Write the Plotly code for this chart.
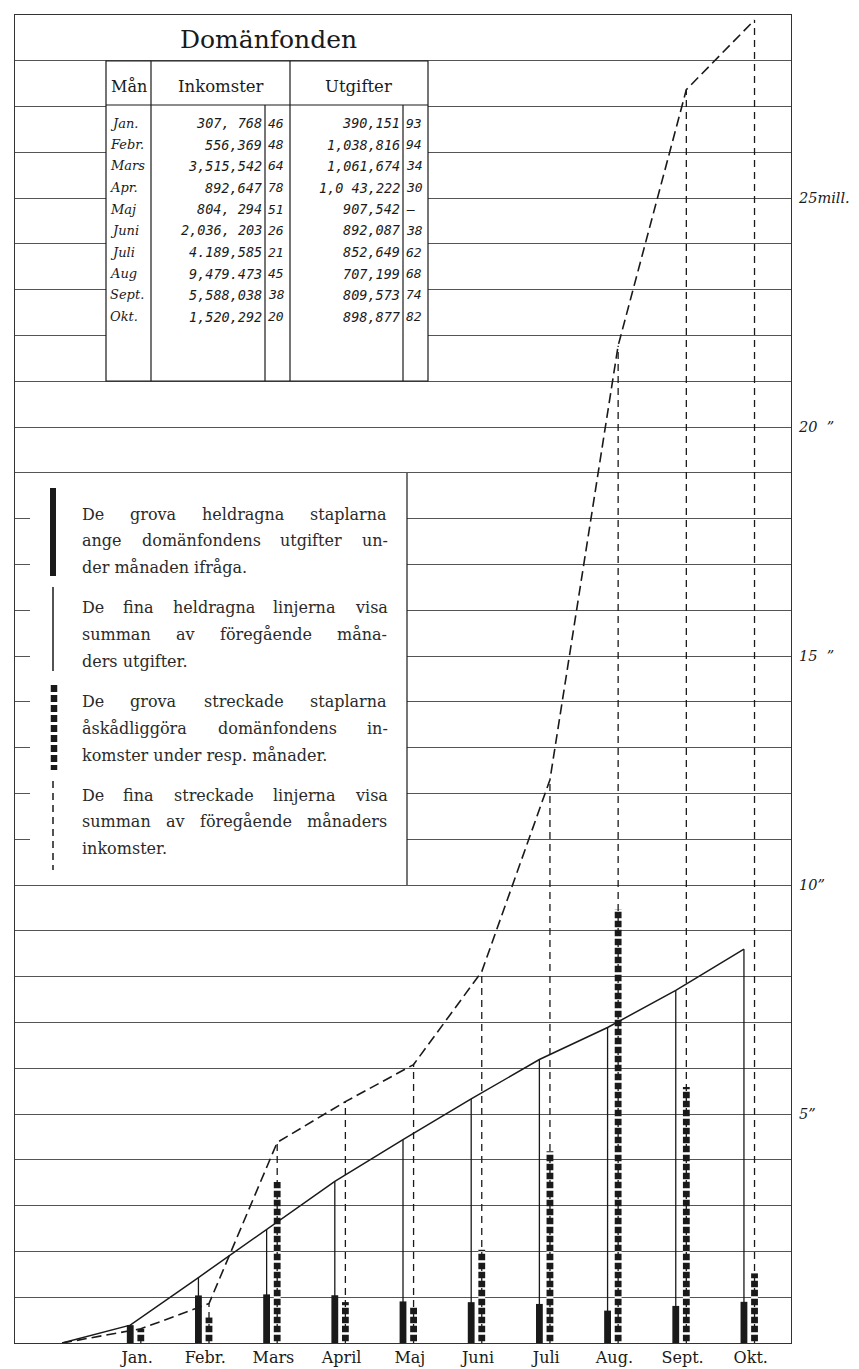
import plotly.graph_objects as go

# --- data (millions kr) ---
months = ["Jan.", "Febr.", "Mars", "April", "Maj", "Juni", "Juli", "Aug.", "Sept.", "Okt."]
month_pos = [1, 2, 3, 4, 5, 6, 7, 8, 9, 10]

inkomster = [0.308, 0.556, 3.516, 0.893, 0.804, 2.036, 4.190, 9.479, 5.588, 1.520]
utgifter = [0.390, 1.039, 1.062, 1.043, 0.908, 0.892, 0.853, 0.707, 0.810, 0.899]
inkomster_summa = [0, 0.31, 0.86, 4.38, 5.27, 6.08, 8.11, 12.30, 21.78, 27.37, 28.89]
utgifter_summa = [0, 0.39, 1.43, 2.49, 3.53, 4.44, 5.33, 6.19, 6.89, 7.70, 8.60]

y_labels = {5: "5\u201d", 10: "10\u201d", 15: "15\u00a0\u00a0\u201d", 20: "20\u00a0\u00a0\u201d", 25: "25mill."}

# table in the upper left corner
table_months = ["Jan.", "Febr.", "Mars", "Apr.", "Maj", "Juni", "Juli", "Aug", "Sept.", "Okt."]
ink_kr = ["307, 768", "556,369", "3,515,542", "892,647", "804, 294", "2,036, 203",
          "4.189,585", "9,479.473", "5,588,038", "1,520,292"]
ink_ore = ["46", "48", "64", "78", "51", "26", "21", "45", "38", "20"]
utg_kr = ["390,151", "1,038,816", "1,061,674", "1,0 43,222", "907,542", "892,087",
          "852,649", "707,199", "809,573", "898,877"]
utg_ore = ["93", "94", "34", "30", "\u2013", "38", "62", "68", "74", "82"]

legend_paragraphs = [
    ["De grova heldragna staplarna", "ange domänfondens utgifter un-", "der månaden ifråga."],
    ["De fina heldragna linjerna visa", "summan av föregående måna-", "ders utgifter."],
    ["De grova streckade staplarna", "åskådliggöra domänfondens in-", "komster under resp. månader."],
    ["De fina streckade linjerna visa", "summan av föregående månaders", "inkomster."],
]

# --- geometry helpers (pixel -> paper) ---
W, H = 859, 1369
L, R, T, B = 7, 783, 7, 1335
INK_SHIFT = 0.155  # income marks sit a little right of expense marks
INK = "#1a1a1a"
SERIF = "DejaVu Serif"


def fx(px):
    return (px - L) / (R - L)


def fy(py):
    return (B - py) / (B - T)


fig = go.Figure()

# thin vertical lines up to the running sums
xs, ys = [], []
for p, s in zip(month_pos, utgifter_summa[1:]):
    xs += [p, p, None]
    ys += [0, s, None]
fig.add_trace(go.Scatter(x=xs, y=ys, mode="lines", line=dict(color=INK, width=1.3), hoverinfo="skip"))

xs, ys = [], []
for p, s in zip(month_pos, inkomster_summa[1:]):
    xs += [p + INK_SHIFT, p + INK_SHIFT, None]
    ys += [0, s, None]
fig.add_trace(go.Scatter(x=xs, y=ys, mode="lines",
                         line=dict(color=INK, width=1.3, dash="7px,5px"), hoverinfo="skip"))

# monthly bars
fig.add_trace(go.Bar(x=month_pos, y=utgifter, width=0.1, offset=-0.05,
                     marker=dict(color=INK, line=dict(width=0))))
fig.add_trace(go.Bar(x=month_pos, y=inkomster, width=0.1, offset=INK_SHIFT - 0.05,
                     marker=dict(color=INK, line=dict(width=0),
                                 pattern=dict(shape="-", fillmode="overlay", fgcolor="white",
                                              fgopacity=1, size=9, solidity=0.28))))

# running sums
fig.add_trace(go.Scatter(x=[0] + month_pos, y=utgifter_summa, mode="lines",
                         line=dict(color=INK, width=1.5)))
fig.add_trace(go.Scatter(x=[0] + [p + INK_SHIFT for p in month_pos], y=inkomster_summa, mode="lines",
                         line=dict(color=INK, width=1.6, dash="10px,5px")))

shapes = []
annotations = []


def rect(x0, y0, x1, y1, line_w=0):
    shapes.append(dict(type="rect", xref="paper", yref="paper", layer="above",
                       x0=fx(x0), x1=fx(x1), y0=fy(y1), y1=fy(y0), fillcolor="white",
                       line=dict(color=INK, width=line_w)))


def seg(x0, y0, x1, y1, w=1.2, dash=None):
    shapes.append(dict(type="line", xref="paper", yref="paper", layer="above",
                       x0=fx(x0), x1=fx(x1), y0=fy(y0), y1=fy(y1),
                       line=dict(color=INK, width=w, dash=dash)))


def text(x, y, s, size=14, anchor="left", family=SERIF, style="normal", color=INK):
    annotations.append(dict(x=fx(x), y=fy(y), xref="paper", yref="paper", text=s, showarrow=False,
                            xanchor=anchor, yanchor="middle", borderpad=0,
                            font=dict(family=family, size=size, color=color, style=style)))


# --- table ---
text(260, 31, "Domänfonden", size=25, anchor="center")
rect(98, 53, 420, 373, line_w=1.2)
seg(98, 97, 420, 97)
seg(143, 53, 143, 373)
seg(282, 53, 282, 373)
seg(257, 97, 257, 373)
seg(395, 97, 395, 373)
text(121, 78, "Mån", size=16, anchor="center")
text(213, 78, "Inkomster", size=16.5, anchor="center")
text(350, 78, "Utgifter", size=16.5, anchor="center")
for i in range(len(table_months)):
    y = 115 + i * 21.5
    text(101, y, table_months[i], size=13, style="italic")
    text(255, y, ink_kr[i], size=13.5, anchor="right", family="DejaVu Sans Mono", style="italic")
    text(259, y, ink_ore[i], size=13, family="DejaVu Sans Mono", style="italic")
    text(393, y, utg_kr[i], size=13.5, anchor="right", family="DejaVu Sans Mono", style="italic")
    text(397, y, utg_ore[i], size=13, family="DejaVu Sans Mono", style="italic")

# --- explanation box ---
rect(22, 466.5, 399, 875.5)
seg(399, 465, 399, 877)
seg(45, 480, 45, 568, w=6)
seg(45, 579, 45, 663, w=1.5)
seg(46, 677, 46, 762, w=6.5, dash="7px,3px")
seg(45, 773, 45, 862, w=1.5, dash="7px,5px")

# rough DejaVu Serif advance widths (em) used to justify the lines
CHAR_W = {" ": 0.32, "i": 0.32, "l": 0.32, "j": 0.32, "f": 0.37, "t": 0.40, "r": 0.48, "s": 0.51,
          "c": 0.56, "v": 0.57, "m": 0.95, ".": 0.32, ",": 0.32, "-": 0.34, "D": 0.77, "e": 0.59}
FS = 16
LEFT, RIGHT = 73, 378
TXT = "#2a2a2a"


def word_w(w):
    return sum(CHAR_W.get(c, 0.62) for c in w) * FS


for k, para in enumerate(legend_paragraphs):
    for j, line in enumerate(para):
        y = 506 + k * 93.7 + j * 26.8
        words = line.split(" ")
        if j == len(para) - 1:
            text(LEFT, y, line, size=FS, color=TXT)
            continue
        widths = [word_w(w) for w in words]
        gap = (RIGHT - LEFT - sum(widths)) / (len(words) - 1)
        x = LEFT
        for w, ww in zip(words, widths):
            text(x, y, w, size=FS, color=TXT)
            x += ww + gap

fig.update_layout(
    width=W, height=H,
    margin=dict(l=L, r=W - R, t=T, b=H - B),
    paper_bgcolor="white", plot_bgcolor="white",
    showlegend=False, barmode="overlay",
    shapes=shapes, annotations=annotations,
)
fig.update_xaxes(range=[-0.69, 10.69], showgrid=False, zeroline=False,
                 tickmode="array", tickvals=[p + 0.1 for p in month_pos], ticktext=months,
                 ticks="", tickfont=dict(family=SERIF, size=16, color=INK),
                 showline=True, mirror=True, linecolor="#333", linewidth=1.2)
fig.update_yaxes(range=[0, 29], side="right", zeroline=False,
                 tickmode="array", tickvals=list(range(30)),
                 ticktext=[y_labels.get(v, "") for v in range(30)],
                 ticks="", ticklabelstandoff=4,
                 tickfont=dict(family=SERIF, size=14.5, color=INK, style="italic"),
                 showgrid=True, gridcolor="#555", gridwidth=1,
                 showline=True, mirror=True, linecolor="#333", linewidth=1.2)

fig.write_html("out.html")
